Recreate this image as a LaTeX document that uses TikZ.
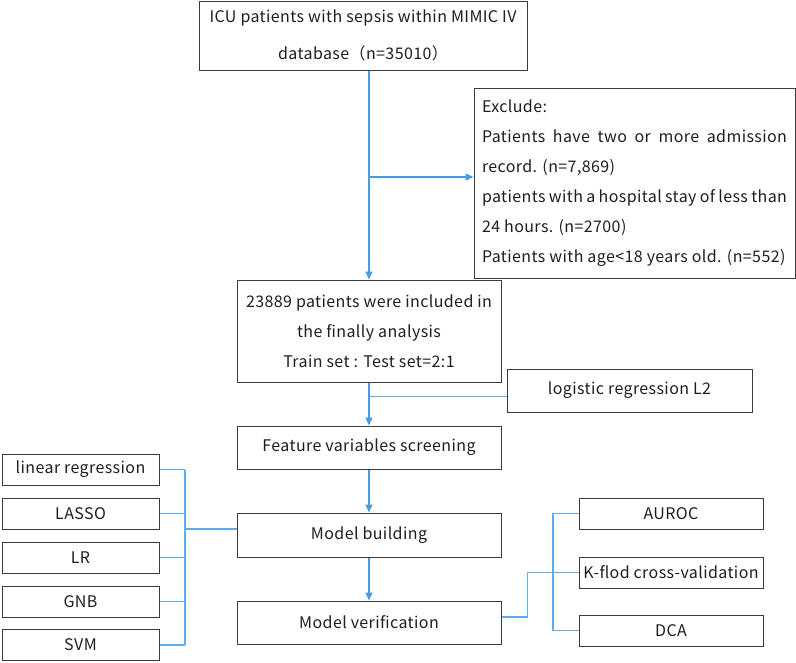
\documentclass[tikz,border=0pt]{standalone}
\usepackage{fontspec}
\setmainfont{Noto Sans CJK SC}[LetterSpace=2.5]
\usetikzlibrary{arrows.meta}
\definecolor{boxgray}{RGB}{60,60,60}
\definecolor{textgray}{RGB}{30,30,30}
\definecolor{arrowblue}{RGB}{72,156,226}
\definecolor{linkblue}{RGB}{95,172,236}

\begin{document}
\begin{tikzpicture}[x=1pt,y=-1pt,
    box/.style={draw=boxgray, line width=1pt, text=textgray, inner sep=0pt,
        align=center, font=\fontsize{16}{30}\selectfont},
    arr/.style={draw=arrowblue, line width=1.3pt, -{Triangle[length=8pt,width=7pt]}},
    link/.style={draw=linkblue, line width=1.1pt}]
    \useasboundingbox (0,0) rectangle (796,662);
    % main stream
    \node[box, minimum width=328pt, minimum height=69pt, font=\fontsize{16}{37}\selectfont]
        (src) at (363,35.5) {ICU patients with sepsis within MIMIC IV\\database（n=35010）};
    \node[box, minimum width=321pt, minimum height=190pt, text width=305pt, align=justify]
        (excl) at (634.5,183) {Exclude:\\
        Patients have two or more admission\linebreak record. (n=7,869)\\
        patients with a hospital stay of less than\linebreak 24 hours. (n=2700)\\
        Patients with age<18 years old. (n=552)};
    \node[box, minimum width=264pt, minimum height=102pt] (incl) at (369,331)
        {23889 patients were included in\\the finally analysis\\Train set : Test set=2:1};
    \node[box, minimum width=245pt, minimum height=43pt] (logi) at (629.5,390.5) {logistic regression L2};
    \node[box, minimum width=264pt, minimum height=43pt] (feat) at (369,447.5) {Feature variables screening};
    \node[box, minimum width=264pt, minimum height=44pt] (build) at (369,535) {Model building};
    \node[box, minimum width=264pt, minimum height=43pt] (verif) at (369,622.5) {Model verification};
    % candidate models
    \foreach \name/\lab/\y in {lin/linear regression/469.5, lasso/LASSO/513.5, lr/LR/557.5,
        gnb/GNB/601.5, svm/SVM/645} {
        \node[box, minimum width=157pt, minimum height=31pt] (m\name) at (80.5,\y) {\lab};
    }
    % evaluation
    \foreach \name/\lab/\y in {auroc/AUROC/513.5, kflod/K-flod cross-validation/572.5, dca/DCA/630.5} {
        \node[box, minimum width=184pt, minimum height=31pt] (e\name) at (671,\y) {\lab};
    }
    \coordinate (split) at (369,177);
    \coordinate (lbus) at (185,529);
    \coordinate (rbus) at (553,572.5);
    % arrows
    \draw[arr] (src.south -| incl.north) -- (incl.north);
    \draw[arr] (split) -- (split -| excl.west);
    \draw[arr] (incl.south) -- (feat.north);
    \draw[arr] (feat.south) -- (build.north);
    \draw[arr] (build.south) -- (verif.north);
    % thin links
    \draw[link] ([yshift=-6pt]logi.west) -- ([yshift=-6pt]logi.west -| incl.south);
    \foreach \name in {lin,lasso,lr,gnb,svm}
        \draw[link] (m\name.east) -- (m\name.east -| lbus);
    \draw[link] (mlin.east -| lbus) -- (msvm.east -| lbus);
    \draw[link] (lbus) -- (lbus -| build.west);
    \draw[link] ([yshift=5.5pt]verif.east) -- ++(26,0) |- (ekflod.west);
    \draw[link] (eauroc.west) -- (eauroc.west -| rbus) -- (edca.west -| rbus) -- (edca.west);
\end{tikzpicture}
\end{document}
